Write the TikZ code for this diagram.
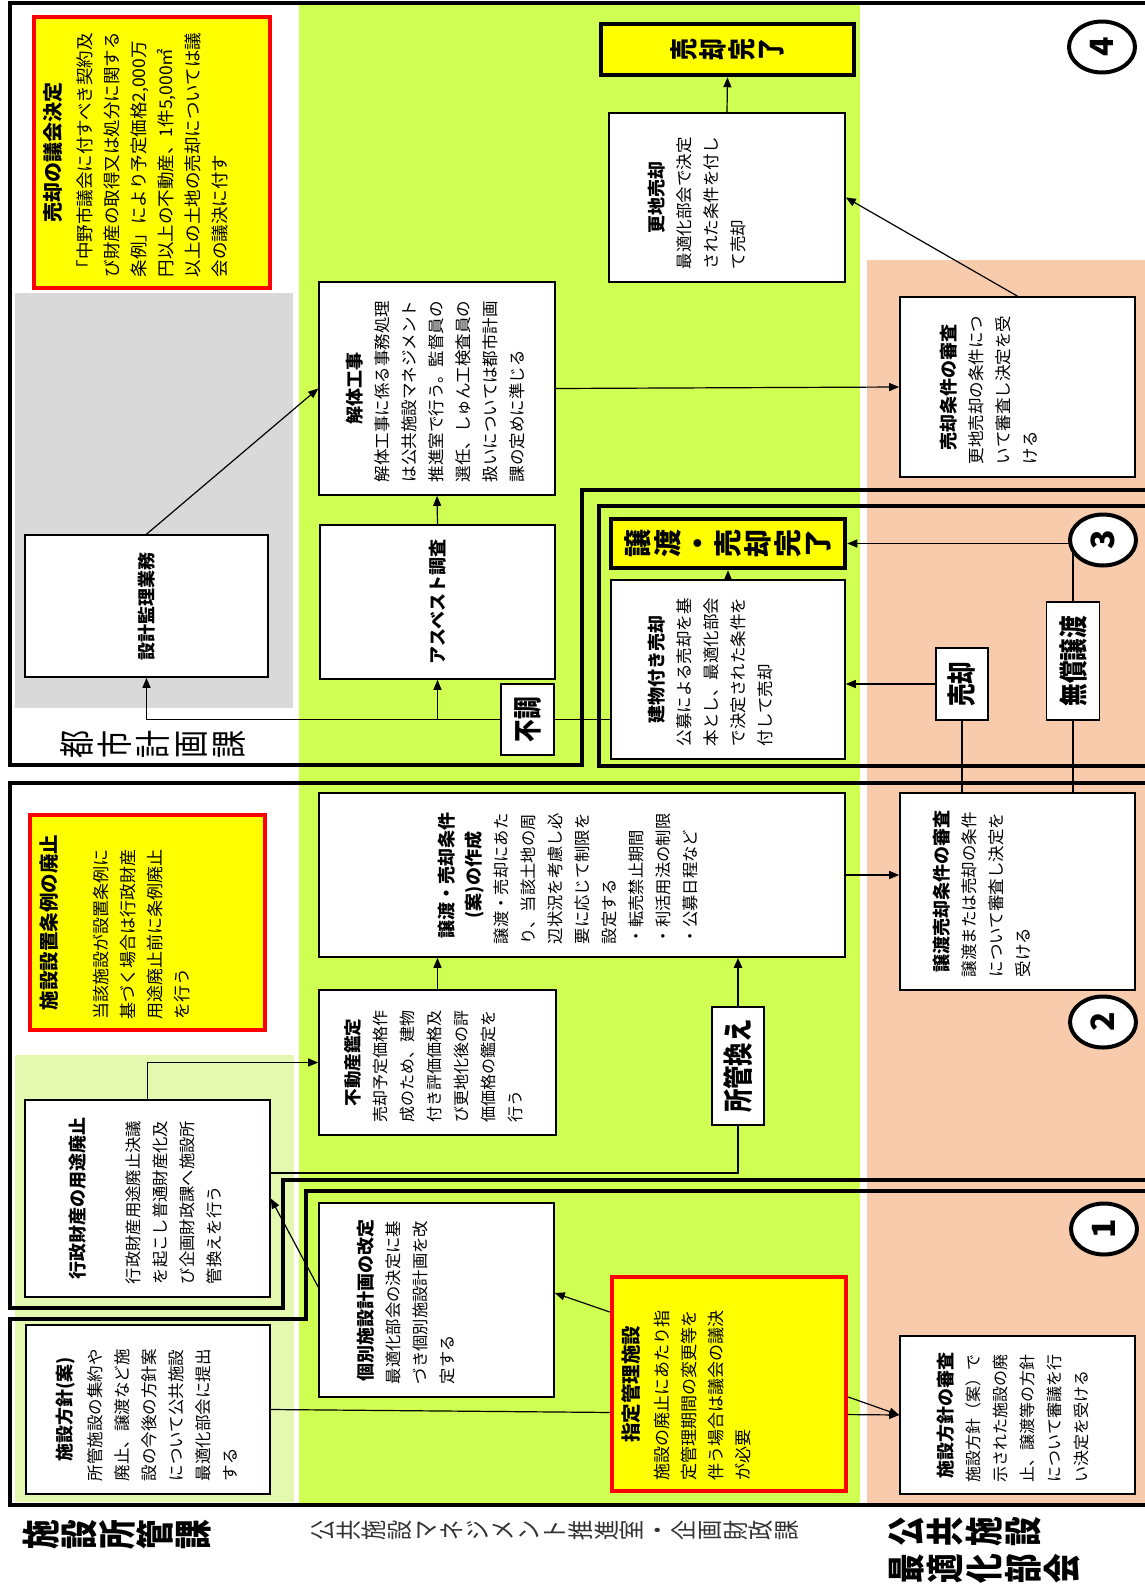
\documentclass[tikz,border=0pt]{standalone}
\usepackage{fontspec}
\setmainfont{Noto Sans CJK JP}
\newfontfamily\cjkn[FakeStretch=0.78]{Noto Sans CJK JP}
\usepackage{graphicx}
\usetikzlibrary{arrows.meta,shapes.geometric}
\definecolor{lgreen}{RGB}{208,255,84}
\definecolor{pgreen}{RGB}{228,248,176}
\definecolor{peach}{RGB}{248,203,173}
\definecolor{lgrey}{RGB}{217,217,217}
\definecolor{ryellow}{RGB}{255,255,0}
\definecolor{rred}{RGB}{255,0,0}
\pgfdeclarelayer{back}
\pgfsetlayers{back,main}
\newcommand\bx[3]{\rotatebox{90}{\begin{minipage}[c][#2][t]{#1}#3\end{minipage}}}
\newcommand\ttl[2][18pt]{{\centering\fontsize{#1}{27pt}\selectfont\bfseries #2\par}}
\newcommand\bdy[2][16.5pt]{{\raggedright\fontsize{#1}{27pt}\selectfont #2\par}}
\newcommand\vt[3]{\rotatebox{90}{\vbox{#1\baselineskip=#2\lineskiplimit=-100pt\halign{\hfil##\hfil\cr#3\crcr}}}}
\newcommand\vcol[3]{\vtop{#1\baselineskip=#2\lineskiplimit=-100pt\halign{\hfil##\hfil\cr#3\crcr}}}
\newcommand\hlab[2]{\rotatebox{90}{#1#2}}
\tikzset{
 box/.style={draw, line width=1.6pt, fill=white, inner sep=0pt},
 redbox/.style={draw=rred, line width=4.5pt, fill=ryellow, inner sep=0pt},
 endbox/.style={draw, line width=4.5pt, fill=ryellow, inner sep=0pt},
 lab/.style={draw, line width=1.6pt, fill=white, inner sep=0pt},
 arr/.style={line width=1.2pt, -{Triangle[length=10pt,width=8pt]}},
 ln/.style={line width=1.2pt},
 frame/.style={line width=4.5pt, line join=miter},
 num/.style={draw, ellipse, line width=4pt, fill=white, minimum width=66pt, minimum height=51pt, inner sep=0pt},
}
\begin{document}
\begin{tikzpicture}[x=1pt,y=1pt]
\useasboundingbox (0,0) rectangle (1145,-1587);
\begin{pgfonlayer}{back}
\fill[white] (0,0) rectangle (1145,-1587);
\fill[lgreen] (299,-3) rectangle (860,-1505);
\fill[peach] (867,-260) rectangle (1150,-1505);
\fill[lgrey] (15,-293) rectangle (293,-708);
\fill[pgreen] (15,-1055) rectangle (294,-1502);
\draw[frame] (10,-3) -- (1150,-3) -- (1150,-490) -- (582,-490) -- (582,-765) -- (10,-765) -- cycle;
\draw[frame] (599,-506) -- (1150,-506) -- (1150,-766) -- (599,-766) -- cycle;
\draw[frame] (10,-783) -- (1150,-783) -- (1150,-1180) -- (283,-1180) -- (283,-1308) -- (10,-1308) -- cycle;
\draw[frame] (10,-1319) -- (306,-1319) -- (306,-1191) -- (1150,-1191) -- (1150,-1505) -- (10,-1505) -- cycle;
\end{pgfonlayer}

% stage 4
\node[redbox, minimum width=236pt, minimum height=271pt] (gikai) at (152,-152.5) {\bx{249pt}{218pt}{\ttl[20pt]{売却の議会決定}\vspace{4pt}\bdy[17.5pt]{「中野市議会に付すべき契約及\\び財産の取得又は処分に関する\\条例」により予定価格2,000万\\円以上の不動産、1件5,000㎡\\以上の土地の売却については議\\会の議決に付す}}};
\node[box, minimum width=243pt, minimum height=142pt] (sekkei) at (146.5,-606) {\hlab{\fontsize{18pt}{18pt}\selectfont\bfseries}{設計監理業務}};
\node[box, minimum width=236pt, minimum height=213pt] (kaitai) at (437,-388.5) {\bx{187pt}{182pt}{\ttl{解体工事}\bdy{解体工事に係る事務処理\\は公共施設マネジメント\\推進室で行う。監督員の\\選任、しゅん工検査員の\\扱いについては都市計画\\課の定めに準じる}}};
\node[box, minimum width=235pt, minimum height=154pt] (asb) at (437.5,-602) {\hlab{\fontsize{18pt}{18pt}\selectfont\bfseries}{アスベスト調査}};
\node[box, minimum width=236pt, minimum height=169pt] (sarachi) at (727,-197.5) {\bx{143pt}{158pt}{\ttl{更地売却}\bdy{最適化部会で決定\\された条件を付し\\て売却}}};
\node[endbox, minimum width=253pt, minimum height=51pt] (kanryo4) at (727.5,-49.5) {\vt{\cjkn\fontsize{28pt}{29pt}\selectfont\bfseries}{29pt}{売\cr 却\cr 完\cr 了}};
\node[box, minimum width=235pt, minimum height=180pt] (shinsa4) at (1017.5,-387) {\bx{154pt}{155pt}{\ttl{売却条件の審査}\bdy{更地売却の条件につ\\いて審査し決定を受\\ける}}};
\node (l4) at (153,-744) {\vt{\cjkn\fontsize{36pt}{38pt}\selectfont}{38pt}{都\cr 市\cr 計\cr 画\cr 課}};

% stage 3
\node[box, minimum width=234pt, minimum height=179pt] (tatemono) at (728,-669.5) {\bx{153pt}{160pt}{\ttl{建物付き売却}\bdy{公募による売却を基\\本とし、最適化部会\\で決定された条件を\\付して売却}}};
\node[endbox, minimum width=234pt, minimum height=49pt] (joto) at (728,-543.5) {\vt{\fontsize{28pt}{30pt}\selectfont\bfseries}{30pt}{譲\cr 渡\cr ・\cr 売\cr 却\cr 完\cr 了}};
\node[lab, minimum width=53pt, minimum height=71pt] (futyo) at (527.5,-719.5) {\hlab{\cjkn\fontsize{29pt}{29pt}\selectfont\bfseries}{不調}};
\node[lab, minimum width=52pt, minimum height=72pt] (uri) at (962,-684) {\hlab{\cjkn\fontsize{29pt}{29pt}\selectfont\bfseries}{売却}};
\node[lab, minimum width=53pt, minimum height=118pt] (muso) at (1073,-661) {\hlab{\cjkn\fontsize{29pt}{29pt}\selectfont\bfseries}{無償譲渡}};

% stage 2
\node[redbox, minimum width=235pt, minimum height=215pt] (jorei) at (147.5,-922.5) {\bx{193pt}{215pt}{\ttl[19.5pt]{施設設置条例の廃止}\vspace{24pt}\bdy[17pt]{当該施設が設置条例に\\基づく場合は行政財産\\用途廃止前に条例廃止\\を行う}}};
\node[box, minimum width=526pt, minimum height=164pt] (sakusei) at (582,-875) {\bx{138pt}{288pt}{\ttl{譲渡・売却条件\\(案)の作成}\bdy[16.3pt]{譲渡・売却にあた\\り、当該土地の周\\辺状況を考慮し必\\要に応じて制限を\\設定する\\・転売禁止期間\\・利活用法の制限\\・公募日程など}}};
\node[box, minimum width=235pt, minimum height=197pt] (joken) at (1017.5,-891.5) {\bx{171pt}{169pt}{\ttl{譲渡売却条件の審査}\bdy{譲渡または売却の条件\\について審査し決定を\\受ける}}};
\node[box, minimum width=237pt, minimum height=145pt] (fudosan) at (437.5,-1062.5) {\bx{119pt}{185pt}{\ttl[17.5pt]{不動産鑑定}\bdy[16pt]{売却予定価格作\\成のため、建物\\付き評価価格及\\び更地化後の評\\価価格の鑑定を\\行う}}};
\node[lab, minimum width=52pt, minimum height=118pt] (shokan) at (738,-1066) {\hlab{\cjkn\fontsize{30pt}{30pt}\selectfont\bfseries}{所管換え}};
\node[box, minimum width=245pt, minimum height=197pt] (gyosei) at (147.5,-1198.5) {\bx{171pt}{157pt}{\ttl{行政財産の用途廃止}\vspace{28pt}\bdy[16.3pt]{行政財産用途廃止決議\\を起こし普通財産化及\\び企画財政課へ施設所\\管換えを行う}}};

% stage 1
\node[box, minimum width=235pt, minimum height=194pt] (kobetsu) at (436.5,-1300) {\bx{168pt}{159pt}{\ttl{個別施設計画の改定}\bdy[16.3pt]{最適化部会の決定に基\\づき個別施設計画を改\\定する}}};
\node[redbox, minimum width=234pt, minimum height=214pt] (shitei) at (729,-1384) {\bx{192pt}{214pt}{\ttl[19.5pt]{指定管理施設}\vspace{3pt}\bdy[17pt]{施設の廃止にあたり指\\定管理期間の変更等を\\伴う場合は議会の議決\\が必要}}};
\node[box, minimum width=244pt, minimum height=169pt] (hoshin) at (148,-1409.5) {\bx{143pt}{184pt}{\ttl{施設方針(案)}\vspace{3pt}\bdy{所管施設の集約や\\廃止、譲渡など施\\設の今後の方針案\\について公共施設\\最適化部会に提出\\する}}};
\node[box, minimum width=235pt, minimum height=158pt] (shinsa1) at (1017.5,-1415) {\bx{134pt}{161pt}{\ttl{施設方針の審査}\bdy[16pt]{施設方針（案）で\\示された施設の廃\\止、譲渡等の方針\\について審議を行\\い決定を受ける}}};

% connectors
\draw[arr] (sekkei.north) -- (kaitai.west);
\draw[arr] (asb.north) -- (kaitai.south);
\draw[arr] (kaitai.east) -- (shinsa4.west);
\draw[arr] (shinsa4.north) -- (sarachi.east);
\draw[arr] (sarachi.north) -- (kanryo4.south);
\draw[arr] (tatemono.north) -- (joto.south);
\draw[ln] (tatemono.west |- futyo.east) -- (futyo.east);
\draw[arr] (futyo.west) -| (sekkei.south);
\draw[arr] (asb.south |- futyo.west) -- (asb.south);
\draw[ln] (joken.north -| uri.south) -- (uri.south);
\draw[arr] (uri.west) -- (uri.west -| tatemono.east);
\draw[ln] (joken.north -| muso.south) -- (muso.south);
\draw[arr] (muso.north) |- (joto.east);
\draw[arr] (sakusei.east) -- (sakusei.east -| joken.west);
\draw[arr] (fudosan.north) -- (fudosan.north |- sakusei.south);
\draw[arr] (gyosei.north) |- (fudosan.west);
\draw[ln] (gyosei.east |- 0,-1173) -| (shokan.south);
\draw[arr, line width=2.4pt] (shokan.north) -- (shokan.north |- sakusei.south);
\draw[arr] ([yshift=13pt]kobetsu.west) -- (gyosei.east);
\draw[arr] ([yshift=72pt]shitei.west) -- ([yshift=7pt]kobetsu.east);
\draw[arr] ([yshift=-13pt]shitei.east) -- (shinsa1.west);
\begin{pgfonlayer}{back}
\draw[arr] (hoshin.east) -- (shinsa1.west);
\end{pgfonlayer}

% stage numbers
\node[num] (c4) at (1102,-47) {\hlab{\fontsize{32pt}{32pt}\selectfont\bfseries}{4}};
\node[num] (c3) at (1103,-540) {\hlab{\fontsize{32pt}{32pt}\selectfont\bfseries}{3}};
\node[num] (c2) at (1103,-1022) {\hlab{\fontsize{32pt}{32pt}\selectfont\bfseries}{2}};
\node[num] (c1) at (1104,-1229) {\hlab{\fontsize{32pt}{32pt}\selectfont\bfseries}{1}};

% lane labels
\node (l1) at (117,-1535) {\vt{\cjkn\fontsize{38pt}{38pt}\selectfont\bfseries}{38pt}{施\cr 設\cr 所\cr 管\cr 課}};
\node[text=black!80] (l2) at (555,-1530) {\vt{\cjkn\fontsize{25.8pt}{25.8pt}\selectfont}{25.8pt}{公\cr 共\cr 施\cr 設\cr マ\cr ネ\cr ジ\cr メ\cr ン\cr ト\cr 推\cr 進\cr 室\cr ・\cr 企\cr 画\cr 財\cr 政\cr 課}};
\node[anchor=west] (l3) at (885,-1550) {\rotatebox{90}{\vcol{\cjkn\fontsize{38pt}{39pt}\selectfont\bfseries}{39pt}{最\cr 適\cr 化\cr 部\cr 会}\hskip7pt\vcol{\cjkn\fontsize{38pt}{39pt}\selectfont\bfseries}{39pt}{公\cr 共\cr 施\cr 設}}};
\end{tikzpicture}
\end{document}
